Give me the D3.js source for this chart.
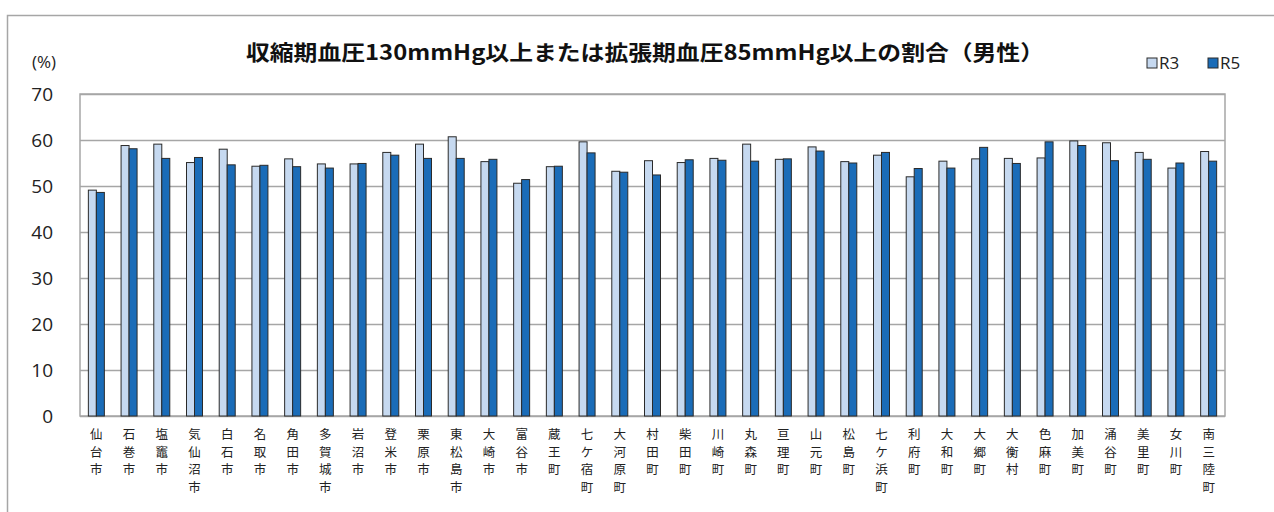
<!DOCTYPE html>
<html><head><meta charset="utf-8">
<script src="https://cdn.jsdelivr.net/npm/d3@7"></script>
<style>
html,body{margin:0;padding:0;background:#fff;}
svg{display:block;}
</style></head>
<body>
<svg id="chart" width="1274" height="512"></svg>
<script>
const categories = ["仙台市","石巻市","塩竈市","気仙沼市","白石市","名取市","角田市","多賀城市","岩沼市","登米市","栗原市","東松島市","大崎市","富谷市","蔵王町","七ケ宿町","大河原町","村田町","柴田町","川崎町","丸森町","亘理町","山元町","松島町","七ケ浜町","利府町","大和町","大郷町","大衡村","色麻町","加美町","涌谷町","美里町","女川町","南三陸町"];
const seriesNames = ["R3","R5"];
const r3 = [49.1,58.8,59.1,55.1,58.0,54.3,55.9,54.8,54.8,57.3,59.1,60.7,55.3,50.6,54.2,59.6,53.2,55.5,55.1,56.0,59.1,55.8,58.5,55.3,56.7,52.0,55.4,55.9,56.0,56.1,59.8,59.4,57.3,53.9,57.5];
const r5 = [48.6,58.1,56.0,56.2,54.6,54.5,54.2,53.9,54.9,56.7,56.0,56.0,55.8,51.4,54.3,57.2,53.0,52.4,55.7,55.6,55.4,55.9,57.6,55.0,57.3,53.8,53.9,58.4,54.9,59.6,58.8,55.5,55.8,55.0,55.4];
const yTicks = [0,10,20,30,40,50,60,70];
const title = "収縮期血圧130mmHg以上または拡張期血圧85mmHg以上の割合（男性）";
const yUnit = "(%)";

const colors = {R3:"#C6D9F0", R5:"#1A6CB8"};
const svg = d3.select("#chart");
const M = {left:80, right:1225, top:94, bottom:416};

// outer frame
svg.append("rect").attr("x",7.5).attr("y",15.5).attr("width",1280).attr("height",520)
  .attr("fill","none").attr("stroke","#A6A6A6").attr("stroke-width",1.5);

const x = d3.scaleBand().domain(categories).range([M.left,M.right]).paddingInner(0).paddingOuter(0);
const y = d3.scaleLinear().domain([0,70]).range([M.bottom,M.top]);
const bw = 8;

// gridlines
const yAxis = d3.axisLeft(y).tickValues(yTicks).tickSize(-(M.right-M.left)).tickFormat(d=>d).tickPadding(27);
const gy = svg.append("g").attr("transform",`translate(${M.left},0)`).call(yAxis);
gy.select(".domain").remove();
gy.selectAll(".tick line").attr("stroke","#A6A6A6").attr("stroke-width",1.5);
gy.selectAll(".tick text").attr("font-family","'Open Sans', 'Noto Sans', sans-serif").attr("font-size",19).attr("fill","#222");

// plot frame
svg.append("rect").attr("x",M.left).attr("y",M.top).attr("width",M.right-M.left).attr("height",M.bottom-M.top)
  .attr("fill","none").attr("stroke","#A6A6A6").attr("stroke-width",1.5);

// bars
const data = categories.map((c,i)=>({c, R3:r3[i], R5:r5[i]}));
const g = svg.append("g");
seriesNames.forEach((s,si)=>{
  g.selectAll("rect."+s).data(data).join("rect")
    .attr("class",s)
    .attr("x",d=>x(d.c)+x.bandwidth()/2 - bw + si*bw)
    .attr("y",d=>y(d[s]))
    .attr("width",bw)
    .attr("height",d=>y(0)-y(d[s]))
    .attr("fill",colors[s])
    .attr("stroke","#2a2a2a").attr("stroke-width",1);
});

// x labels: one text per character, stacked vertically
const pitch = 17.5;
const xl = svg.append("g");
categories.forEach(c=>{
  const cx = x(c)+x.bandwidth()/2;
  xl.selectAll(null).data(Array.from(c)).join("text")
    .attr("x",cx).attr("y",(d,k)=>439+k*pitch)
    .attr("text-anchor","middle").attr("font-family","'Noto Sans CJK JP', sans-serif")
    .attr("font-size",12.5).attr("fill","#222")
    .text(d=>d);
});

// y unit
svg.append("text").attr("x",32).attr("y",68).text(yUnit)
  .attr("font-family","'Open Sans', 'Noto Sans', sans-serif").attr("font-size",17).attr("fill","#222");

// title
svg.append("text").attr("x",645).attr("y",60).attr("text-anchor","middle").text(title)
  .attr("font-family","'Noto Sans CJK JP', sans-serif").attr("font-weight","bold").attr("font-size",21)
  .attr("textLength",798).attr("lengthAdjust","spacingAndGlyphs").attr("fill","#111");

// legend
const leg = svg.append("g");
const legPos = [{s:"R3", x:1147},{s:"R5", x:1208}];
legPos.forEach(p=>{
  leg.append("rect").attr("x",p.x).attr("y",58).attr("width",10).attr("height",10)
    .attr("fill",colors[p.s]).attr("stroke","#2a2a2a").attr("stroke-width",1);
  leg.append("text").attr("x",p.x+12).attr("y",69).text(p.s)
    .attr("font-family","'Open Sans', 'Noto Sans', sans-serif").attr("font-size",17).attr("fill","#222");
});
</script>
</body></html>
